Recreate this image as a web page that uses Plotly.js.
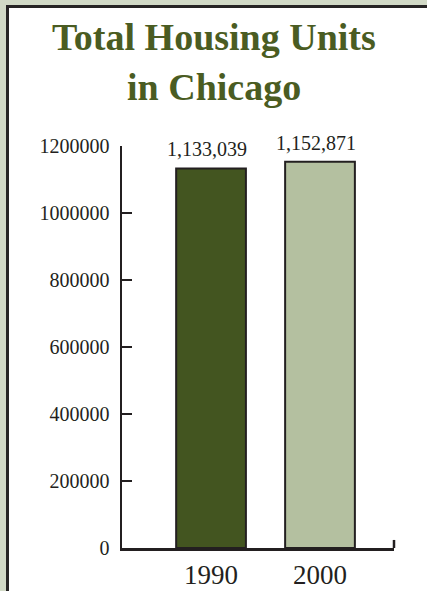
<!DOCTYPE html>
<html>
<head>
<meta charset="utf-8">
<script src="https://cdn.plot.ly/plotly-3.0.1.min.js"></script>
<style>
  html, body { margin: 0; padding: 0; width: 427px; height: 591px; overflow: hidden; background: #d1d9c6; }
  #frame { position: absolute; left: 6px; top: 5px; width: 430px; height: 600px; background: #ffffff;
           border-left: 3px solid #262424; border-top: 3px solid #262424; }
  #chart { position: absolute; left: 0; top: 0; width: 427px; height: 591px; }
</style>
</head>
<body>
<div id="frame"></div>
<div id="chart"></div>
<script>
const categories = ["1990", "2000"];
const units = [1133039, 1152871];
const valueLabels = ["1,133,039", "1,152,871"];
const barColors = ["#435520", "#b4c0a0"];
const yTicks = [0, 200000, 400000, 600000, 800000, 1000000, 1200000];
const titleLines = ["Total Housing Units", "in Chicago"];

const ink = "#231f20";
const serif = "Liberation Serif";
const xPos = categories.map((c, i) => i);

const trace = {
  type: "bar",
  x: xPos,
  y: units,
  width: 0.64,
  marker: { color: barColors, line: { color: ink, width: 2 } },
  hoverinfo: "none"
};

const valueAnnotations = units.map((v, i) => ({
  text: valueLabels[i], xref: "x", yref: "y", x: xPos[i] - 0.04, y: v,
  xanchor: "center", yanchor: "bottom", yshift: 6, showarrow: false,
  font: { family: serif, size: 20, color: ink }
}));

const layout = {
  width: 427, height: 591,
  margin: { l: 122, r: 33, t: 146, b: 43 },
  paper_bgcolor: "rgba(0,0,0,0)",
  plot_bgcolor: "rgba(0,0,0,0)",
  showlegend: false,
  annotations: [
    { text: "<b>" + titleLines[0] + "</b>", xref: "paper", yref: "paper", x: 0.338, y: 1.271,
      xanchor: "center", yanchor: "middle", showarrow: false,
      font: { family: serif, size: 38, color: "#4a5c22" } },
    { text: "<b>" + titleLines[1] + "</b>", xref: "paper", yref: "paper", x: 0.338, y: 1.147,
      xanchor: "center", yanchor: "middle", showarrow: false,
      font: { family: serif, size: 38, color: "#4a5c22" } }
  ].concat(valueAnnotations),
  xaxis: {
    range: [-0.817, 1.679],
    tickvals: xPos,
    ticktext: categories,
    ticks: "",
    showgrid: false, zeroline: false,
    showline: true, linecolor: ink, linewidth: 2.5,
    tickfont: { family: serif, size: 27, color: ink },
    ticklabelstandoff: 1,
    fixedrange: true
  },
  yaxis: {
    range: [0, 1200000],
    tickvals: yTicks,
    ticktext: yTicks.map(String),
    ticks: "inside", ticklen: 10, tickwidth: 2.5, tickcolor: ink,
    showgrid: false, zeroline: false,
    showline: true, linecolor: ink, linewidth: 2.5,
    tickfont: { family: serif, size: 20, color: ink },
    ticklabelstandoff: 6,
    fixedrange: true
  },
  shapes: [
    { type: "line", xref: "x domain", yref: "y", x0: 1, x1: 1, y0: 0, y1: 24000,
      line: { color: ink, width: 2.5 } }
  ]
};

Plotly.newPlot("chart", [trace], layout, { displayModeBar: false, staticPlot: true });
</script>
</body>
</html>
